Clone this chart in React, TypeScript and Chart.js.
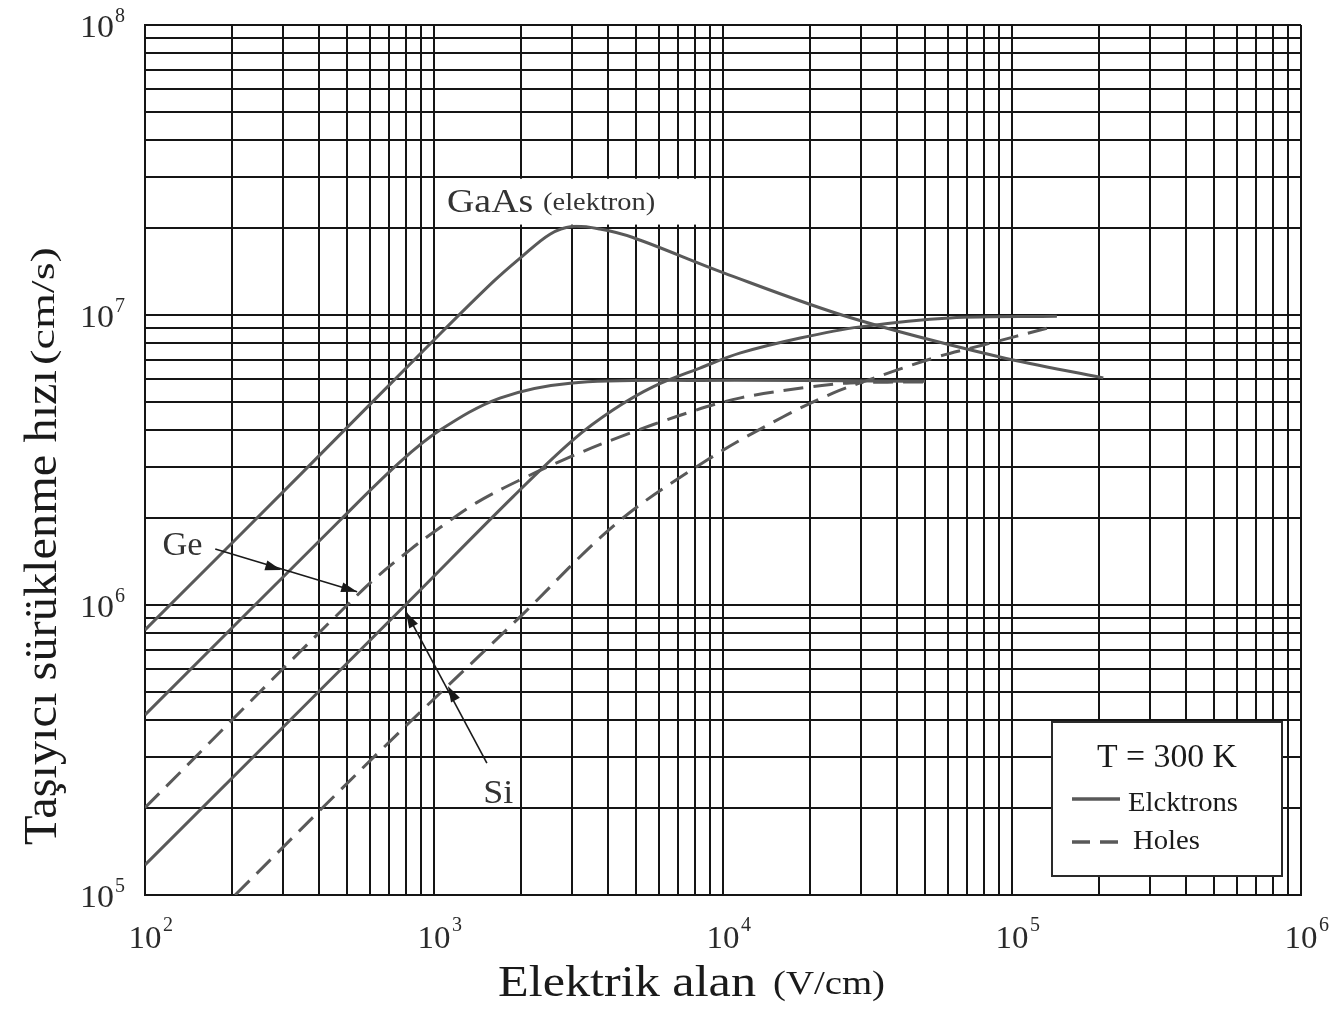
import React, { useEffect, useRef } from 'react';
import { Chart, registerables } from 'chart.js';

Chart.register(...registerables);

// ---- axis ranges / tick labels ----
const X_MIN = 1e2;
const X_MAX = 1e6;
const Y_MIN = 1e5;
const Y_MAX = 1e8;
const X_TICK_EXPONENTS = [2, 3, 4, 5, 6];
const Y_TICK_EXPONENTS = [5, 6, 7, 8];

// ---- series (E in V/cm, v in cm/s) ----
const GAAS_E = [100, 344, 1000, 1600, 2000, 2520, 3000, 3750, 4880, 10000, 27500, 90800, 207000];
const GAAS_V = [8.2e5, 2.81e6, 8.2e6, 1.3e7, 1.58e7, 1.9e7, 2.02e7, 1.98e7, 1.85e7, 1.4e7, 9.8e6, 7.16e6, 6.07e6];

const GE_E_E = [100, 473, 762, 1050, 1690, 2960, 8320, 50000];
const GE_E_V = [4.18e5, 1.96e6, 3.11e6, 4.01e6, 5.17e6, 5.82e6, 5.95e6, 5.91e6];

const SI_E_E = [100, 796, 1875, 3030, 4160, 5720, 8320, 11500, 18500, 29800, 61000, 143000];
const SI_E_V = [1.27e5, 1.0e6, 2.36e6, 3.71e6, 4.7e6, 5.65e6, 6.56e6, 7.4e6, 8.33e6, 9.1e6, 9.77e6, 9.9e6];

const GE_H_E = [100, 568, 826, 1050, 1400, 1985, 2960, 4400, 7500, 11500, 20000, 27500, 50000];
const GE_H_V = [2.0e5, 1.13e6, 1.55e6, 1.85e6, 2.25e6, 2.7e6, 3.24e6, 3.8e6, 4.59e6, 5.18e6, 5.65e6, 5.83e6, 5.88e6];

const SI_H_E = [205, 666, 1985, 4300, 8810, 16100, 24000, 29800, 53300, 79400, 132000];
const SI_H_V = [1.0e5, 3.21e5, 9.1e5, 1.92e6, 3.16e6, 4.45e6, 5.38e6, 5.83e6, 7.1e6, 7.88e6, 9.0e6];

// ---- annotations (data coordinates) ----
const GE_ARROW_E = [175, 296, 542];
const GE_ARROW_V = [1.56e6, 1.32e6, 1.11e6];
const SI_ARROW_E = [1524, 1117, 800];
const SI_ARROW_V = [2.85e5, 5.26e5, 9.46e5];

const GE_LABEL = { text: 'Ge', e: 115, v: 1.49e6 };
const SI_LABEL = { text: 'Si', e: 1480, v: 2.07e5 };
const GAAS_LABEL = { main: 'GaAs', sub: '(elektron)', e: 1110, v: 2.26e7 };
const GAAS_BOX = { e0: 1020, e1: 8800, v0: 2.95e7, v1: 2.05e7 };

const LEGEND_TITLE = 'T = 300 K';
const LEGEND_ITEMS = ['Elcktrons', 'Holes'];

const X_TITLE = 'Elektrik alan';
const X_UNIT = '(V/cm)';
const Y_TITLE = 'Taşıyıcı sürüklenme hızı';
const Y_UNIT = '(cm/s)';

const LINE_COLOR = '#595959';
const GRID_COLOR = '#151515';
const TEXT_COLOR = '#1a1a1a';
const SERIF = '"Liberation Serif", "Times New Roman", serif';

function pts(es: number[], vs: number[]) {
  return es.map((e, i) => ({ x: e, y: vs[i] }));
}

function logTicks(min: number, max: number) {
  const out: { value: number; major: boolean }[] = [];
  const e0 = Math.round(Math.log10(min));
  const e1 = Math.round(Math.log10(max));
  for (let e = e0; e <= e1; e++) {
    for (let m = 1; m <= 9; m++) {
      const v = m * Math.pow(10, e);
      if (v > max * 1.0001) break;
      out.push({ value: v, major: m === 1 });
    }
  }
  return out;
}

function drawFit(ctx: CanvasRenderingContext2D, text: string, x: number, y: number, px: number, targetW?: number, align: CanvasTextAlign = 'left') {
  ctx.font = `${px}px ${SERIF}`;
  const w = ctx.measureText(text).width;
  const sx = targetW ? targetW / w : 1;
  ctx.save();
  ctx.translate(x, y);
  ctx.scale(sx, 1);
  ctx.textAlign = align;
  ctx.textBaseline = 'alphabetic';
  ctx.fillText(text, 0, 0);
  ctx.restore();
}

function arrowHead(ctx: CanvasRenderingContext2D, tx: number, ty: number, dx: number, dy: number) {
  const len = Math.hypot(dx, dy) || 1;
  const ux = dx / len, uy = dy / len;
  const L = 16, W = 5;
  const bx = tx - ux * L, by = ty - uy * L;
  ctx.beginPath();
  ctx.moveTo(tx, ty);
  ctx.lineTo(bx - uy * W, by + ux * W);
  ctx.lineTo(bx + uy * W, by - ux * W);
  ctx.closePath();
  ctx.fill();
}

const decorPlugin = {
  id: 'decor',
  beforeDraw(chart: any) {
    const ctx = chart.ctx;
    ctx.save();
    ctx.fillStyle = '#ffffff';
    ctx.fillRect(0, 0, chart.width, chart.height);
    ctx.restore();
  },
  afterDatasetsDraw(chart: any) {
    const ctx: CanvasRenderingContext2D = chart.ctx;
    const xs = chart.scales.x;
    const ys = chart.scales.y;
    const area = chart.chartArea;
    const X = (e: number) => xs.getPixelForValue(e);
    const Y = (v: number) => ys.getPixelForValue(v);
    ctx.save();
    ctx.fillStyle = TEXT_COLOR;
    ctx.strokeStyle = TEXT_COLOR;

    // GaAs label with white box
    const bx0 = X(GAAS_BOX.e0), bx1 = X(GAAS_BOX.e1), by0 = Y(GAAS_BOX.v0), by1 = Y(GAAS_BOX.v1);
    ctx.fillStyle = '#ffffff';
    ctx.fillRect(bx0, by0, bx1 - bx0, by1 - by0);
    ctx.fillStyle = '#333333';
    const gx = X(GAAS_LABEL.e), gy = Y(GAAS_LABEL.v);
    drawFit(ctx, GAAS_LABEL.main, gx, gy, 34, 86);
    drawFit(ctx, GAAS_LABEL.sub, gx + 96, gy - 2, 25, 112);

    // Ge / Si labels
    ctx.fillStyle = '#333333';
    drawFit(ctx, GE_LABEL.text, X(GE_LABEL.e), Y(GE_LABEL.v), 33, 40);
    drawFit(ctx, SI_LABEL.text, X(SI_LABEL.e), Y(SI_LABEL.v), 33, 30);

    // arrows
    ctx.fillStyle = '#1a1a1a';
    ctx.strokeStyle = '#1a1a1a';
    ctx.lineWidth = 1.6;
    for (const [AE, AV] of [[GE_ARROW_E, GE_ARROW_V], [SI_ARROW_E, SI_ARROW_V]] as number[][][]) {
      const p = AE.map((e, i) => [X(e), Y(AV[i])]);
      ctx.beginPath();
      ctx.moveTo(p[0][0], p[0][1]);
      ctx.lineTo(p[2][0], p[2][1]);
      ctx.stroke();
      const dx = p[2][0] - p[0][0], dy = p[2][1] - p[0][1];
      arrowHead(ctx, p[1][0], p[1][1], dx, dy);
      arrowHead(ctx, p[2][0], p[2][1], dx, dy);
    }

    // legend box
    const lx0 = area.right - 249, lx1 = area.right - 19;
    const ly0 = area.bottom - 173, ly1 = area.bottom - 19;
    ctx.fillStyle = '#ffffff';
    ctx.fillRect(lx0, ly0, lx1 - lx0, ly1 - ly0);
    ctx.strokeStyle = '#2a2a2a';
    ctx.lineWidth = 2;
    ctx.strokeRect(lx0, ly0, lx1 - lx0, ly1 - ly0);
    ctx.fillStyle = TEXT_COLOR;
    drawFit(ctx, LEGEND_TITLE, lx0 + 45, ly0 + 45, 33, 140);
    ctx.strokeStyle = LINE_COLOR;
    ctx.lineWidth = 3.5;
    ctx.beginPath();
    ctx.moveTo(lx0 + 20, ly0 + 77);
    ctx.lineTo(lx0 + 68, ly0 + 77);
    ctx.stroke();
    ctx.setLineDash([18, 10]);
    ctx.beginPath();
    ctx.moveTo(lx0 + 20, ly0 + 120);
    ctx.lineTo(lx0 + 68, ly0 + 120);
    ctx.stroke();
    ctx.setLineDash([]);
    ctx.fillStyle = TEXT_COLOR;
    drawFit(ctx, LEGEND_ITEMS[0], lx0 + 76, ly0 + 89, 27, 110);
    drawFit(ctx, LEGEND_ITEMS[1], lx0 + 81, ly0 + 127, 27, 67);

    // tick labels
    ctx.fillStyle = '#2a2a2a';
    for (const e of X_TICK_EXPONENTS) {
      const px = X(Math.pow(10, e));
      drawFit(ctx, '10', px, area.bottom + 53, 31, 33, 'center');
      drawFit(ctx, String(e), px + 18, area.bottom + 36, 20);
    }
    for (const e of Y_TICK_EXPONENTS) {
      const py = Y(Math.pow(10, e));
      drawFit(ctx, '10', area.left - 31, py + 12, 31, 34, 'right');
      drawFit(ctx, String(e), area.left - 30, py - 3, 20);
    }

    // axis titles
    ctx.fillStyle = TEXT_COLOR;
    drawFit(ctx, X_TITLE, 498, area.bottom + 101, 44, 258);
    drawFit(ctx, X_UNIT, 773, area.bottom + 99, 33, 112);

    ctx.save();
    ctx.translate(56, 845);
    ctx.rotate(-Math.PI / 2);
    drawFit(ctx, Y_TITLE, 0, 0, 47, 475);
    drawFit(ctx, Y_UNIT, 480, -2, 33, 118);
    ctx.restore();

    ctx.restore();
  },
};

export default function App() {
  const ref = useRef<HTMLCanvasElement | null>(null);
  useEffect(() => {
    if (!ref.current) return;
    const common = { borderColor: LINE_COLOR, borderWidth: 3, pointRadius: 0, fill: false, tension: 0.35 };
    const chart = new Chart(ref.current, {
      type: 'line',
      data: {
        datasets: [
          { label: 'GaAs elektron', data: pts(GAAS_E, GAAS_V), ...common },
          { label: 'Ge elektron', data: pts(GE_E_E, GE_E_V), ...common },
          { label: 'Si elektron', data: pts(SI_E_E, SI_E_V), ...common },
          { label: 'Ge delik', data: pts(GE_H_E, GE_H_V), ...common, borderDash: [20, 10] },
          { label: 'Si delik', data: pts(SI_H_E, SI_H_V), ...common, borderDash: [20, 10] },
        ],
      },
      options: {
        responsive: false,
        animation: false,
        layout: { padding: { left: 145, top: 25, right: 40, bottom: 115 } },
        plugins: { legend: { display: false }, tooltip: { enabled: false } },
        scales: {
          x: {
            type: 'logarithmic',
            min: X_MIN,
            max: X_MAX,
            afterBuildTicks: (axis: any) => { axis.ticks = logTicks(X_MIN, X_MAX); },
            ticks: { display: false },
            grid: { color: GRID_COLOR, lineWidth: 2, drawTicks: false },
            border: { display: true, color: GRID_COLOR, width: 2 },
            title: { display: false },
          },
          y: {
            type: 'logarithmic',
            min: Y_MIN,
            max: Y_MAX,
            afterBuildTicks: (axis: any) => { axis.ticks = logTicks(Y_MIN, Y_MAX); },
            ticks: { display: false },
            grid: { color: GRID_COLOR, lineWidth: 2, drawTicks: false },
            border: { display: true, color: GRID_COLOR, width: 2 },
            title: { display: false },
          },
        },
      },
      plugins: [decorPlugin],
    } as any);
    return () => chart.destroy();
  }, []);
  return (
    <div style={{ position: 'absolute', left: 0, top: 0, width: 1341, height: 1010, background: '#fff' }}>
      <canvas ref={ref} width={1341} height={1010} style={{ display: 'block' }} />
    </div>
  );
}
